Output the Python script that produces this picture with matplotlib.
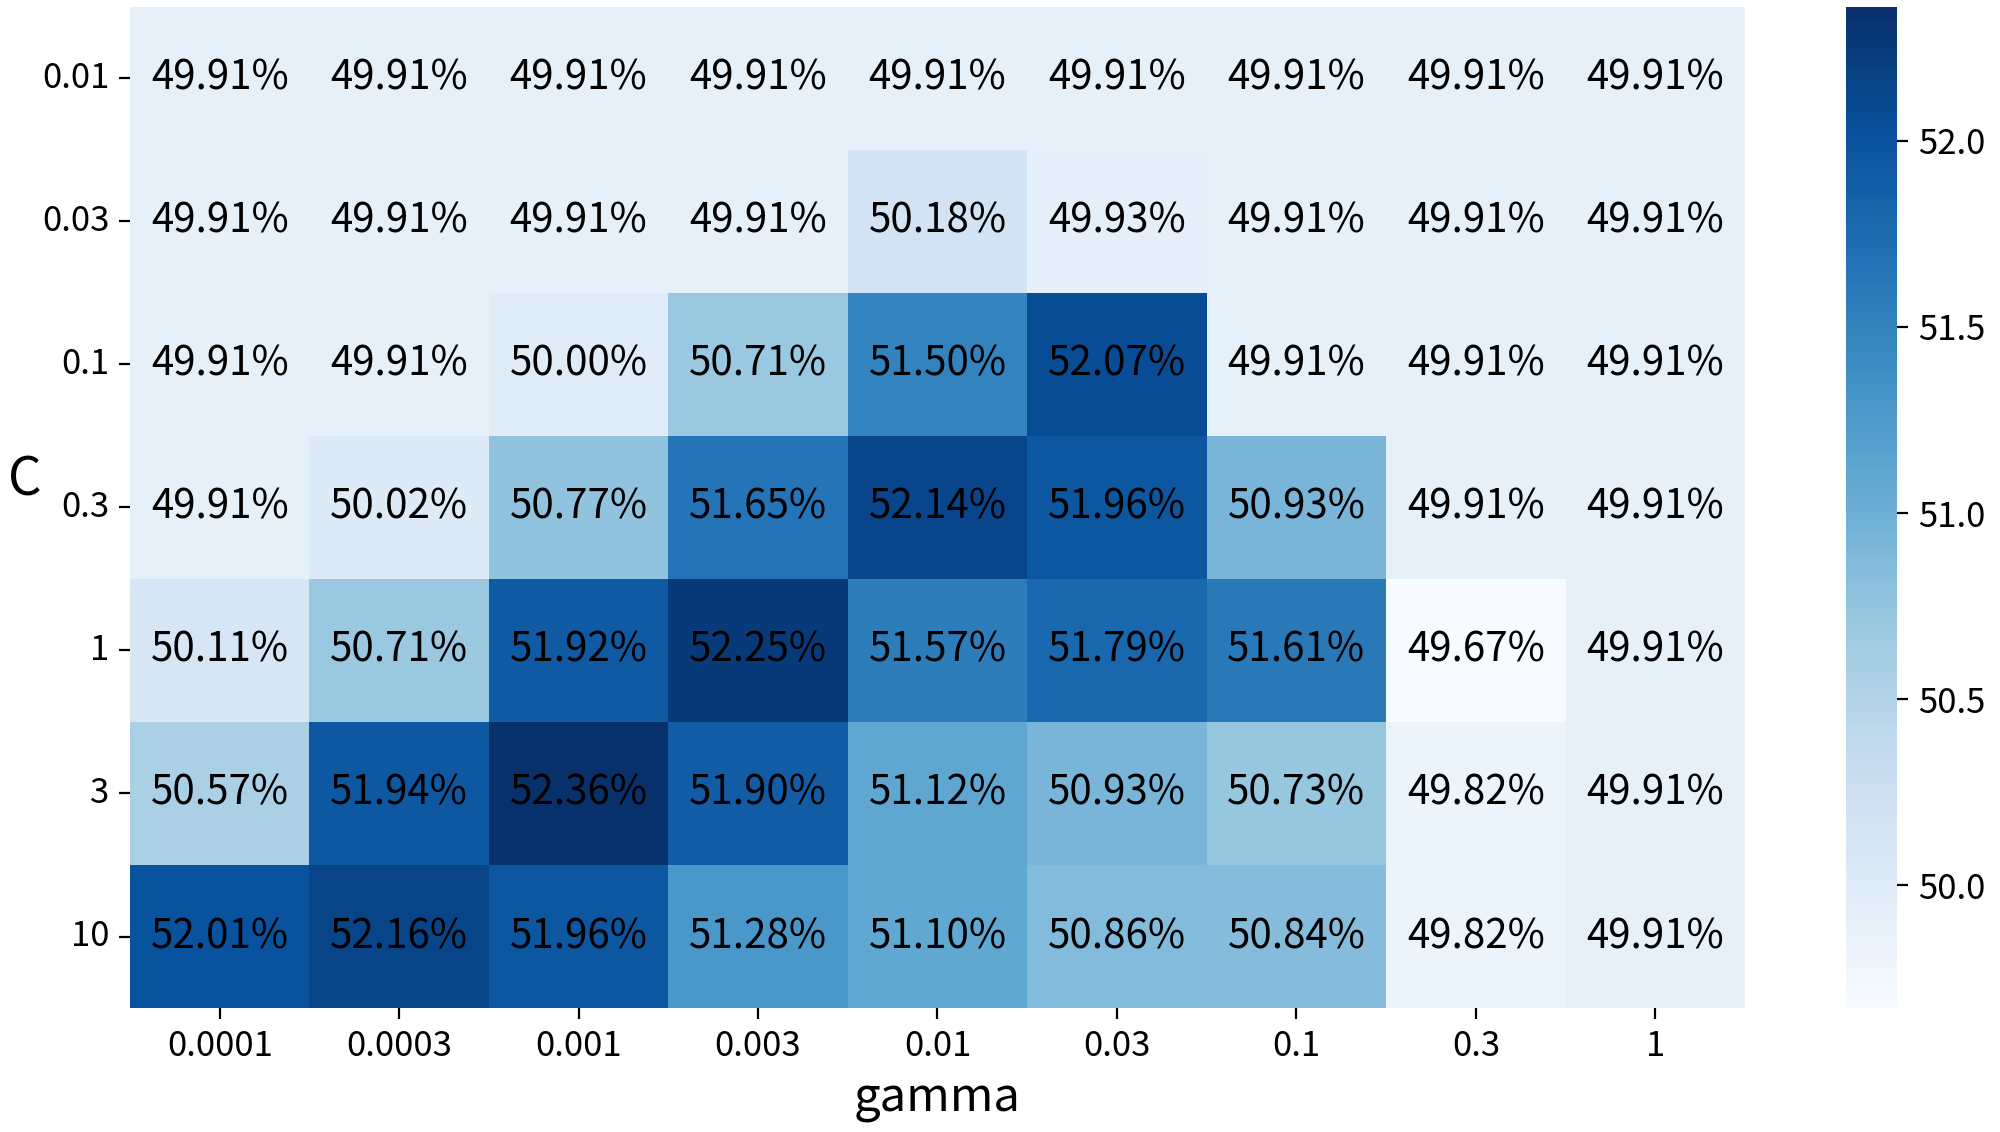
import numpy as np
import pandas as pd
import matplotlib
matplotlib.use("Agg")
import matplotlib.pyplot as plt
import seaborn as sns

# grid search resultater (accuracy i %)
C_values = ["0.01", "0.03", "0.1", "0.3", "1", "3", "10"]
gamma_values = ["0.0001", "0.0003", "0.001", "0.003", "0.01", "0.03", "0.1", "0.3", "1"]

acc_c001 = [49.91, 49.91, 49.91, 49.91, 49.91, 49.91, 49.91, 49.91, 49.91]
acc_c003 = [49.91, 49.91, 49.91, 49.91, 50.18, 49.93, 49.91, 49.91, 49.91]
acc_c01 = [49.91, 49.91, 50.00, 50.71, 51.50, 52.07, 49.91, 49.91, 49.91]
acc_c03 = [49.91, 50.02, 50.77, 51.65, 52.14, 51.96, 50.93, 49.91, 49.91]
acc_c1 = [50.11, 50.71, 51.92, 52.25, 51.57, 51.79, 51.61, 49.67, 49.91]
acc_c3 = [50.57, 51.94, 52.36, 51.90, 51.12, 50.93, 50.73, 49.82, 49.91]
acc_c10 = [52.01, 52.16, 51.96, 51.28, 51.10, 50.86, 50.84, 49.82, 49.91]

scores = pd.DataFrame([acc_c001, acc_c003, acc_c01, acc_c03, acc_c1, acc_c3, acc_c10],
                      index=C_values, columns=gamma_values)
labels = scores.map(lambda v: f"{v:.2f}%")

plt.rcParams['font.family'] = ['Noto Sans CJK SC', 'DejaVu Sans']
plt.rcParams['axes.unicode_minus'] = False

fig = plt.figure(figsize=(10, 5.66), dpi=200)
ax = fig.add_axes([0.065, 0.1095, 0.8075, 0.8845])
cax = fig.add_axes([0.923, 0.1095, 0.0255, 0.8845])

sns.heatmap(scores, annot=labels, fmt="", cmap="Blues", ax=ax, cbar_ax=cax,
            annot_kws={"size": 14.5, "color": "black"})

ax.set_xlabel("gamma", fontsize=17, labelpad=4)
ax.set_ylabel("C", fontsize=19, rotation=0, labelpad=6)
ax.tick_params(axis="both", labelsize=12.5, length=4)
ax.set_yticklabels(C_values, rotation=0)
ax.set_xticklabels(gamma_values, rotation=0)
cax.tick_params(labelsize=12.5, length=4)
cax.yaxis.set_major_formatter(matplotlib.ticker.FormatStrFormatter("%.1f"))

fig.savefig("out.png", dpi=200)
